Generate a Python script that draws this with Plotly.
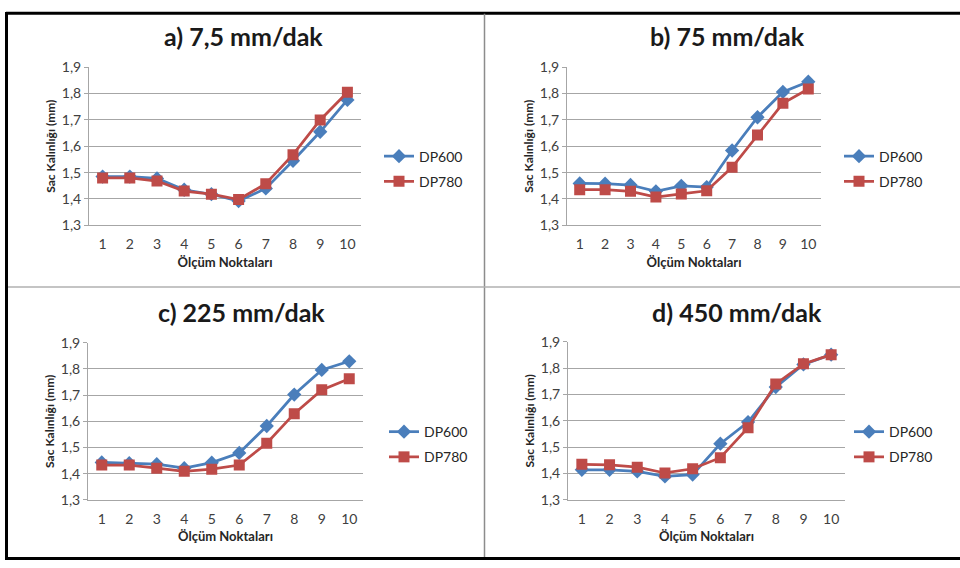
import plotly.graph_objects as go

points = [1, 2, 3, 4, 5, 6, 7, 8, 9, 10]
tick_labels = ["1", "2", "3", "4", "5", "6", "7", "8", "9", "10"]
titles = ["a) 7,5 mm/dak", "b) 75 mm/dak", "c) 225 mm/dak", "d) 450 mm/dak"]
series_names = ["DP600", "DP780"]

dp600_a = [1.485, 1.485, 1.478, 1.435, 1.418, 1.392, 1.440, 1.545, 1.655, 1.776]
dp780_a = [1.480, 1.480, 1.468, 1.430, 1.418, 1.398, 1.458, 1.568, 1.700, 1.805]
dp600_b = [1.459, 1.458, 1.453, 1.429, 1.450, 1.445, 1.584, 1.710, 1.806, 1.845]
dp780_b = [1.435, 1.435, 1.429, 1.407, 1.419, 1.431, 1.520, 1.643, 1.763, 1.817]
dp600_c = [1.443, 1.440, 1.436, 1.421, 1.442, 1.479, 1.582, 1.702, 1.796, 1.829]
dp780_c = [1.433, 1.433, 1.421, 1.409, 1.417, 1.433, 1.516, 1.629, 1.720, 1.762]
dp600_d = [1.414, 1.414, 1.408, 1.389, 1.396, 1.513, 1.595, 1.728, 1.814, 1.851]
dp780_d = [1.435, 1.433, 1.424, 1.402, 1.418, 1.460, 1.574, 1.740, 1.816, 1.851]

panels = [(dp600_a, dp780_a), (dp600_b, dp780_b), (dp600_c, dp780_c), (dp600_d, dp780_d)]

W, H = 960, 568
# plot-area boxes in pixels: (x0, x1, ytop, ybottom)
boxes = [(89, 361, 60, 223), (567, 821, 60, 223), (88, 363, 344, 506), (568, 845, 343, 506)]
title_pos = [(243, 28), (727, 28), (241, 312), (737, 312)]
legend_pos = [(379, 165), (839, 165), (384, 449), (849, 449)]

BLUE = "#4a7ebb"
RED = "#be4b48"
FONT = "Lato"

fig = go.Figure()
legend_keys = ["legend", "legend2", "legend3", "legend4"]
for i, (s600, s780) in enumerate(panels):
    xa = "x" if i == 0 else f"x{i+1}"
    ya = "y" if i == 0 else f"y{i+1}"
    for name, vals, color, sym, size in [
        (series_names[0], s600, BLUE, "diamond", 11),
        (series_names[1], s780, RED, "square", 11),
    ]:
        fig.add_trace(go.Scatter(
            x=points, y=vals, name=name, mode="lines+markers",
            line=dict(color=color, width=2.75),
            marker=dict(symbol=sym, size=size, color=color),
            xaxis=xa, yaxis=ya, legend=legend_keys[i],
            legendgroup=f"{name}_{i}",
        ))

layout = dict(
    width=W, height=H, margin=dict(l=0, r=0, t=0, b=0),
    paper_bgcolor="white", plot_bgcolor="white",
    separators=",.",
    font=dict(family=FONT, color="#404040", size=14),
    showlegend=True,
)
for i, (x0, x1, yt, yb) in enumerate(boxes):
    sx = "" if i == 0 else str(i + 1)
    layout["xaxis" + sx] = dict(
        domain=[x0 / W, x1 / W], anchor="y" + sx, range=[0.5, 10.5],
        tickmode="array", tickvals=points, ticktext=tick_labels,
        showgrid=False, showline=True, linecolor="#a6a6a6", linewidth=1,
        ticks="outside", ticklen=6, tickcolor="rgba(0,0,0,0)",
        tickfont=dict(size=14, color="#404040"), zeroline=False,
        title=dict(text="<b>Ölçüm Noktaları</b>", font=dict(size=13, color="#262626"), standoff=6),
        fixedrange=True,
    )
    layout["yaxis" + sx] = dict(
        domain=[1 - yb / H, 1 - yt / H], anchor="x" + sx, range=[1.3, 1.9],
        dtick=0.1, tick0=1.3, tickformat=".1f",
        showgrid=True, gridcolor="#a6a6a6", gridwidth=1,
        showline=True, linecolor="#a6a6a6", linewidth=1,
        ticks="outside", ticklen=4, tickcolor="#a6a6a6",
        tickfont=dict(size=14, color="#404040"), zeroline=False,
        title=dict(text="<b>Sac Kalınlığı (mm)</b>", font=dict(size=12, color="#262626"), standoff=3),
        fixedrange=True,
    )
    lx, ly = legend_pos[i]
    layout[legend_keys[i]] = dict(
        x=lx / W, y=1 - ly / H, xanchor="left", yanchor="middle",
        font=dict(size=14, color="#262626", family=FONT),
        bgcolor="rgba(0,0,0,0)", itemwidth=30, tracegroupgap=4,
    )

annotations = []
for (tx, ty), t in zip(title_pos, titles):
    annotations.append(dict(
        text=f"<b>{t}</b>", x=tx / W, y=1 - ty / H, xref="paper", yref="paper",
        showarrow=False, xanchor="center", yanchor="middle",
        font=dict(size=25, color="#1a1a1a", family=FONT),
    ))
layout["annotations"] = annotations

shapes = [
    dict(type="line", xref="paper", yref="paper", x0=6 / W, x1=1, y0=1 - 4.5 / H, y1=1 - 4.5 / H,
         line=dict(color="black", width=3)),
    dict(type="line", xref="paper", yref="paper", x0=6.5 / W, x1=6.5 / W, y0=1 - 3 / H, y1=1 - 567 / H,
         line=dict(color="black", width=3)),
    dict(type="line", xref="paper", yref="paper", x0=5 / W, x1=1, y0=1 - 566.5 / H, y1=1 - 566.5 / H,
         line=dict(color="black", width=3)),
    dict(type="line", xref="paper", yref="paper", x0=484.5 / W, x1=484.5 / W, y0=1 - 5 / H, y1=1 - 565 / H,
         line=dict(color="#8c8c8c", width=1.5)),
    dict(type="line", xref="paper", yref="paper", x0=8 / W, x1=1, y0=1 - 286.5 / H, y1=1 - 286.5 / H,
         line=dict(color="#b0b0b0", width=1.5)),
]
layout["shapes"] = shapes

fig.update_layout(**layout)
fig.write_html("out.html")
